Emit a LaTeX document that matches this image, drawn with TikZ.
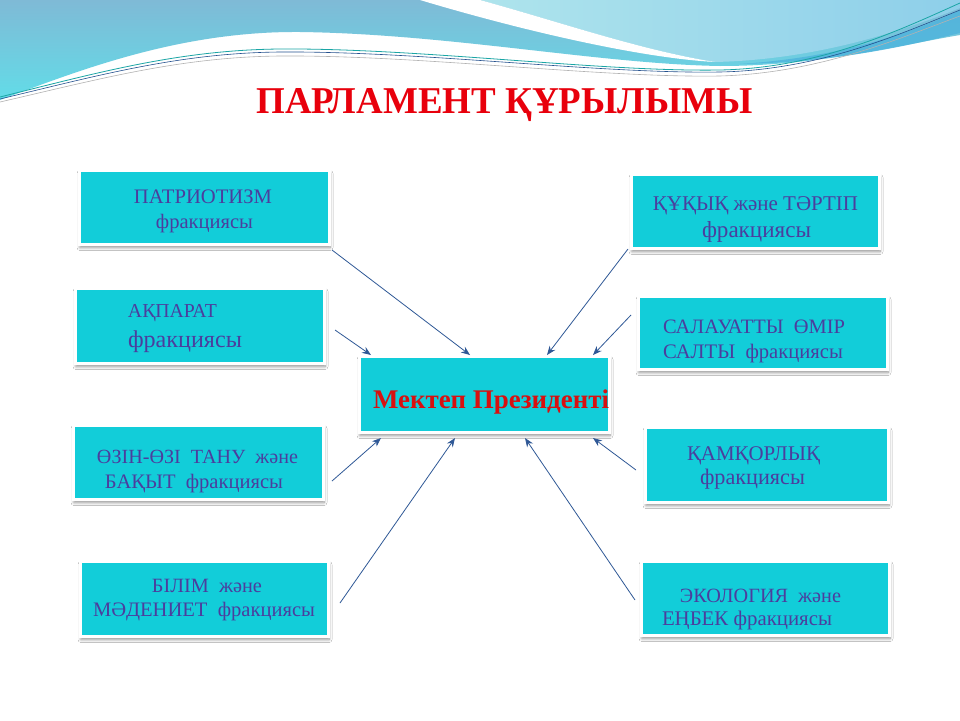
\documentclass[tikz,border=0pt]{standalone}
\usepackage{fontspec}
\setmainfont{Liberation Serif}
\usetikzlibrary{arrows.meta,calc,shadows.blur}
\definecolor{boxcyan}{HTML}{12CDD9}
\definecolor{boxtext}{HTML}{4B3E9E}
\definecolor{titlered}{HTML}{E8000C}
\definecolor{centerred}{HTML}{D81010}
\definecolor{arrowblue}{HTML}{2F5896}
\definecolor{waveA}{HTML}{7FBAD6}
\definecolor{waveB}{HTML}{62DCE8}
\definecolor{paleA}{HTML}{AEE4EC}
\definecolor{paleB}{HTML}{8ECFEA}
\definecolor{bandblue}{HTML}{4DB3DC}
\definecolor{lineteal}{HTML}{1AA5A5}
\definecolor{linedark}{HTML}{24508E}
\newcommand{\fitw}[2]{\resizebox{#1pt}{!}{#2}}
\begin{document}
\begin{tikzpicture}[x=1pt,y=-1pt,
  fbox/.style={rectangle, fill=boxcyan, draw=white, line width=3pt, inner sep=0pt,
    blur shadow={shadow xshift=0.5pt, shadow yshift=-3pt, shadow blur radius=3pt,
      shadow blur steps=6, shadow opacity=45}},
  ltxt/.style={anchor=base, inner sep=0pt, text=boxtext},
  arr/.style={draw=arrowblue, line width=0.8pt, -{Stealth[length=9pt,width=7pt]}}]
\useasboundingbox (0,0) rectangle (960,720);
\fill[white] (0,0) rectangle (960,720);
% background waves
\shade[top color=waveA, bottom color=waveB]
  (0,0) -- (960,0) -- (960,35) .. controls (900,45) and (820,66) .. (720,66)
  .. controls (600,64) and (450,34) .. (300,32) .. controls (180,31) and (80,70) .. (0,100) -- cycle;
\shade[left color=paleA, right color=paleB]
  (480,0) -- (960,0) -- (960,8) .. controls (880,40) and (800,60) .. (715,62)
  .. controls (640,50) and (560,22) .. (480,0) -- cycle;
\fill[white] (420,0) .. controls (520,30) and (640,58) .. (715,62)
  .. controls (640,50) and (560,22) .. (480,0) -- cycle;
\fill[bandblue, opacity=0.8] (960,10) .. controls (900,38) and (830,58) .. (740,64)
  .. controls (840,62) and (910,45) .. (960,33) -- cycle;
\draw[lineteal, line width=0.8pt] (0,97) .. controls (100,72) and (180,50) .. (280,49)
  .. controls (420,48) and (600,72) .. (720,70) .. controls (820,68) and (900,30) .. (960,3);
\draw[linedark, line width=0.6pt] (0,99) .. controls (100,75) and (180,53) .. (280,52)
  .. controls (420,51) and (600,74) .. (720,72) .. controls (820,70) and (900,34) .. (960,10);
\draw[gray!60, line width=0.6pt] (0,102) .. controls (100,79) and (180,57) .. (280,56)
  .. controls (420,55) and (600,78) .. (720,76) .. controls (820,73) and (900,38) .. (960,16);
% title
\node[anchor=base, inner sep=0pt, text=titlered] (title) at (504.5,113)
  {\resizebox{496pt}{25pt}{\bfseries ПАРЛАМЕНТ ҚҰРЫЛЫМЫ}};
% boxes
\node[fbox, minimum width=250pt, minimum height=74pt] (b1) at (204.5,207.5) {};
\node[fbox, minimum width=249pt, minimum height=75pt] (b2) at (200,326) {};
\node[fbox, minimum width=248pt, minimum height=74pt] (b3) at (755.5,211.5) {};
\node[fbox, minimum width=249pt, minimum height=73pt] (b4) at (763,333) {};
\node[fbox, minimum width=250pt, minimum height=76pt] (c) at (484.5,394.5) {};
\node[fbox, minimum width=250pt, minimum height=74pt] (b6) at (198.5,462.5) {};
\node[fbox, minimum width=248pt, minimum height=75pt] (b7) at (204.5,599) {};
\node[fbox, minimum width=243pt, minimum height=75pt] (b8) at (767,465) {};
\node[fbox, minimum width=248pt, minimum height=74pt] (b9) at (765.5,598.5) {};
% texts
\node[ltxt] (t1a) at (203,203) {\fitw{138}{ПАТРИОТИЗМ}};
\node[ltxt] (t1b) at (204.5,228) {\fitw{97}{фракциясы}};
\node[ltxt] (t2a) at (172.5,317) {\fitw{89}{АҚПАРАТ}};
\node[ltxt] (t2b) at (185,347) {\fitw{114}{фракциясы}};
\node[ltxt] (t3a) at (755.5,210) {\fitw{205}{ҚҰҚЫҚ және ТӘРТІП}};
\node[ltxt] (t3b) at (756.5,237) {\fitw{109}{фракциясы}};
\node[ltxt] (t4a) at (754,333) {\fitw{182}{САЛАУАТТЫ~~ӨМІР}};
\node[ltxt] (t4b) at (753,358) {\fitw{180}{САЛТЫ~~фракциясы}};
\node[anchor=base, inner sep=0pt, text=centerred] (ct) at (491,408)
  {\fitw{236}{\bfseries Мектеп Президенті}};
\node[ltxt] (t6a) at (197.5,463) {\fitw{201}{ӨЗІН-ӨЗІ~~ТАНУ~~және}};
\node[ltxt] (t6b) at (194,488) {\fitw{178}{БАҚЫТ~~фракциясы}};
\node[ltxt] (t7a) at (207,592) {\fitw{110}{БІЛІМ~~және}};
\node[ltxt] (t7b) at (204,616) {\fitw{222}{МӘДЕНИЕТ~~фракциясы}};
\node[ltxt] (t8a) at (753.5,460) {\fitw{133}{ҚАМҚОРЛЫҚ}};
\node[ltxt] (t8b) at (752.5,484) {\fitw{105}{фракциясы}};
\node[ltxt] (t9a) at (760.5,602) {\fitw{161}{ЭКОЛОГИЯ~~және}};
\node[ltxt] (t9b) at (747,625) {\fitw{170}{ЕҢБЕК фракциясы}};
% arrows
\draw[arr] ($(b1.south east)+(1,4)$) -- ($(c.north west)+(112,0)$);
\draw[arr] ($(b2.east)+(9,4)$) -- ($(c.north west)+(13,0)$);
\draw[arr] ($(b3.south west)+(-2,-1)$) -- ($(c.north west)+(189,0)$);
\draw[arr] ($(b4.west)+(-6,-18)$) -- ($(c.north west)+(235,0)$);
\draw[arr] ($(b6.east)+(7,18.5)$) -- ($(c.south west)+(23,4)$);
\draw[arr] ($(b7.east)+(10,4)$) -- ($(c.south west)+(97,4)$);
\draw[arr] ($(b8.west)+(-8,5)$) -- ($(c.south west)+(235,4)$);
\draw[arr] ($(b9.west)+(-5,1.5)$) -- ($(c.south west)+(167,4)$);
\end{tikzpicture}
\end{document}
